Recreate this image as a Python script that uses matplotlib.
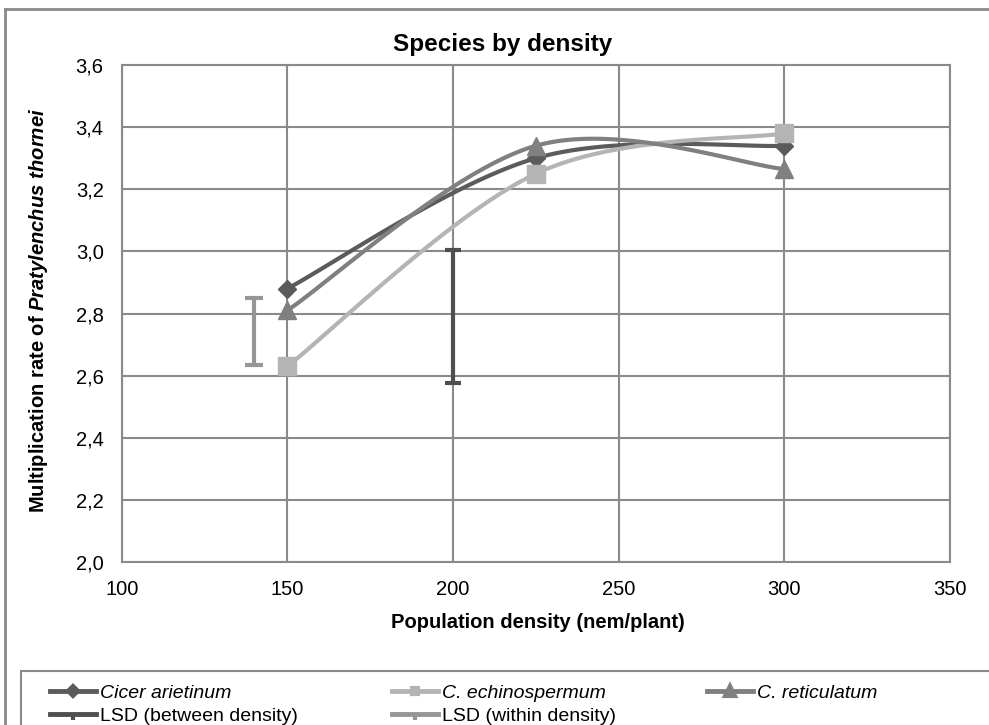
import numpy as np
import matplotlib
matplotlib.use("Agg")
from matplotlib import pyplot as plt
from matplotlib.lines import Line2D
from matplotlib.patches import Rectangle

plt.rcParams['font.family'] = ['Liberation Sans', 'DejaVu Sans']
plt.rcParams['mathtext.fontset'] = 'custom'
plt.rcParams['mathtext.rm'] = 'Liberation Sans:bold'
plt.rcParams['mathtext.it'] = 'Liberation Sans:italic:bold'

# data
density = [150, 225, 300]
cicer = [2.88, 3.30, 3.34]
echino = [2.63, 3.25, 3.38]
reticulatum = [2.81, 3.34, 3.265]

lsd_between_x, lsd_between_y, lsd_between_err = 200, 2.79, 0.215
lsd_within_x, lsd_within_y, lsd_within_err = 140, 2.742, 0.107

x_ticks = [100, 150, 200, 250, 300, 350]
y_ticks = [2.0, 2.2, 2.4, 2.6, 2.8, 3.0, 3.2, 3.4, 3.6]

c_cicer = '#5b5b5b'
c_echino = '#b4b4b4'
c_retic = '#808080'
c_between = '#4f4f4f'
c_within = '#969696'
grid_c = '#8a8a8a'

fig = plt.figure(figsize=(9.89, 7.25), dpi=100)
ax = fig.add_axes([121.7 / 989, 1 - 562 / 725, (950 - 121.7) / 989, (562 - 65) / 725])
ax.set_xlim(100, 350)
ax.set_ylim(2.0, 3.6)


def smooth(xs, ys, n=60):
    # excel-like smoothed line: bezier segments with catmull-rom tangents, in screen space
    pts = ax.transData.transform(np.column_stack([xs, ys]))
    out = [pts[0]]
    for i in range(len(pts) - 1):
        p0 = pts[max(i - 1, 0)]
        p1 = pts[i]
        p2 = pts[i + 1]
        p3 = pts[min(i + 2, len(pts) - 1)]
        c1 = p1 + (p2 - p0) / 6
        c2 = p2 - (p3 - p1) / 6
        t = np.linspace(0, 1, n)[1:, None]
        seg = ((1 - t) ** 3) * p1 + 3 * ((1 - t) ** 2) * t * c1 + 3 * (1 - t) * t ** 2 * c2 + t ** 3 * p2
        out.extend(seg)
    out = ax.transData.inverted().transform(np.array(out))
    return out[:, 0], out[:, 1]


for ys, col, mk, ms in [(cicer, c_cicer, 'D', 9.5), (echino, c_echino, 's', 12.5), (reticulatum, c_retic, '^', 13)]:
    sx, sy = smooth(density, ys)
    ax.plot(sx, sy, color=col, lw=3, solid_capstyle='round', zorder=3)
    ax.plot(density, ys, ls='none', marker=mk, ms=ms, color=col, zorder=4)

ax.errorbar([lsd_between_x], [lsd_between_y], yerr=[lsd_between_err], color=c_between,
            lw=3, capsize=5.5, capthick=3, zorder=3)
ax.errorbar([lsd_within_x], [lsd_within_y], yerr=[lsd_within_err], color=c_within,
            lw=3, capsize=6.5, capthick=3, zorder=3)

ax.set_xticks(x_ticks)
ax.set_yticks(y_ticks)
ax.set_yticklabels([f"{v:.1f}".replace('.', ',') for v in y_ticks])
ax.tick_params(length=0, labelsize=14.5)
ax.tick_params(axis='y', pad=13)
ax.tick_params(axis='x', pad=13)
ax.grid(True, color=grid_c, lw=1.5)
for s in ax.spines.values():
    s.set_color(grid_c)
    s.set_linewidth(1.5)
ax.set_axisbelow(True)

fig.text(503 / 989, 1 - 45 / 725, "Species by density", ha='center', va='center',
         fontsize=17.5, fontweight='bold')
fig.text(538 / 989, 1 - 622 / 725, "Population density (nem/plant)", ha='center', va='center',
         fontsize=14.5, fontweight='bold')
fig.text(38.5 / 989, 1 - 310 / 725,
         r"Multiplication rate of $\mathit{Pratylenchus\ thornei}$",
         rotation=90, ha='center', va='center', fontsize=14.5, fontweight='bold')

# outer chart frame (cut off at right and bottom)
fig.add_artist(Line2D([5 / 989, 1], [1 - 9 / 725, 1 - 9 / 725], transform=fig.transFigure,
                      color='#8a8a8a', lw=2))
fig.add_artist(Line2D([5 / 989, 5 / 989], [0, 1 - 9 / 725], transform=fig.transFigure,
                      color='#8a8a8a', lw=2))
fig.add_artist(Rectangle((21 / 989, -0.1), 1.0, 0.1 + 1 - 671 / 725, transform=fig.transFigure,
                         fill=False, edgecolor='#8a8a8a', lw=1.5))


def h(col, mk, ms):
    return Line2D([], [], color=col, lw=3.5, marker=mk, ms=ms, mew=3)


cols = [
    (38, [h(c_cicer, 'D', 5), h(c_between, 3, 4)], ['Cicer arietinum', 'LSD (between density)'],
     ['italic', 'normal']),
    (380, [h(c_echino, 's', 5), h(c_within, 3, 4)], ['C. echinospermum', 'LSD (within density)'],
     ['italic', 'normal']),
    (695, [h(c_retic, '^', 7)], ['C. reticulatum'], ['italic']),
]
for x0, hs, labs, styles in cols:
    leg = fig.legend(hs, labs, loc='upper left', bbox_to_anchor=(x0 / 989, 1 - 673 / 725),
                     frameon=False, fontsize=14, handlelength=2.4, handletextpad=0.2,
                     labelspacing=0.25, borderpad=0.1)
    for t, st in zip(leg.get_texts(), styles):
        t.set_fontstyle(st)

fig.savefig('out.png', dpi=100)
